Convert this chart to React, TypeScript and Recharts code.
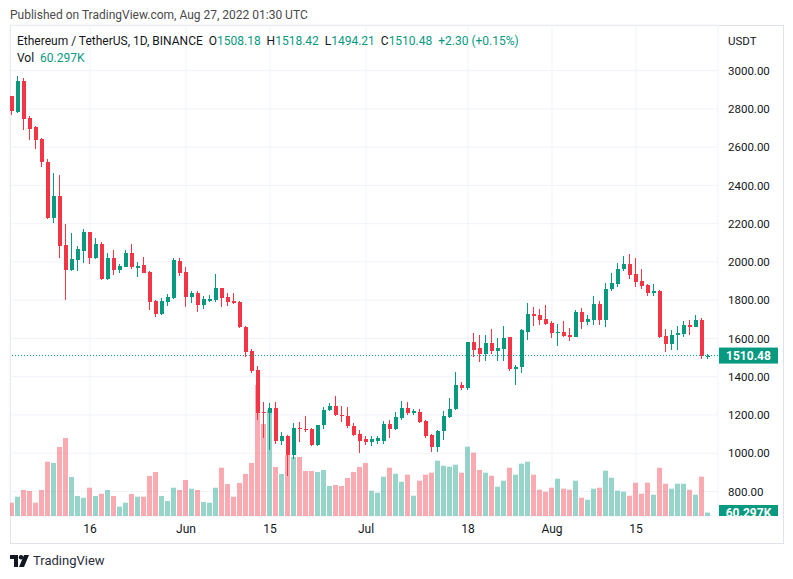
import React from 'react'
import {
  Bar,
  CartesianGrid,
  Cell,
  ComposedChart,
  ReferenceLine,
  XAxis,
  YAxis,
} from 'recharts'

// ETHUSDT daily, 3 May 2022 .. 27 Aug 2022 (index 0 = 3 May)
const opens = [
  2865, 2784, 2947, 2755, 2703, 2645, 2525, 2232, 2345, 2089, 1958, 2011, 2058, 2154, 2023, 2094, 1912, 2023, 1958, 1976,
  2049, 1968, 1984, 1949, 1796, 1727, 1793, 1810, 2005, 1949, 1818, 1840, 1775, 1794, 1802, 1862, 1815, 1797, 1792, 1662,
  1536, 1435, 1214, 1208, 1235, 1065, 1089, 990, 1130, 1127, 1127, 1044, 1148, 1225, 1246, 1200, 1195, 1143, 1101, 1073,
  1057, 1062, 1066, 1153, 1127, 1182, 1235, 1212, 1216, 1170, 1093, 1032, 1116, 1188, 1230, 1356, 1340, 1583, 1548, 1518,
  1578, 1536, 1543, 1606, 1438, 1449, 1635, 1728, 1723, 1702, 1683, 1630, 1636, 1618, 1609, 1740, 1688, 1696, 1780, 1696,
  1857, 1885, 1962, 1990, 1937, 1901, 1880, 1836, 1850, 1613, 1571, 1618, 1623, 1670, 1658, 1697, 1508.18,
]
const highs = [
  2868, 2974, 2961, 2764, 2712, 2649, 2538, 2464, 2454, 2199, 2152, 2081, 2173, 2158, 2124, 2105, 2047, 2063, 1990, 2060,
  2094, 2002, 2025, 1952, 1801, 1810, 1833, 2020, 2020, 1976, 1850, 1850, 1820, 1826, 1935, 1866, 1838, 1838, 1795, 1666,
  1544, 1456, 1270, 1262, 1270, 1113, 1096, 1156, 1165, 1194, 1130, 1150, 1240, 1265, 1300, 1246, 1241, 1156, 1122, 1091,
  1091, 1090, 1166, 1176, 1217, 1274, 1270, 1230, 1230, 1175, 1100, 1120, 1220, 1290, 1425, 1373, 1583, 1630, 1620, 1620,
  1650, 1601, 1665, 1610, 1460, 1650, 1785, 1765, 1755, 1775, 1690, 1673, 1692, 1655, 1750, 1760, 1722, 1820, 1795, 1890,
  1940, 1995, 2030, 2039, 2020, 1965, 1885, 1885, 1855, 1650, 1644, 1665, 1690, 1695, 1722, 1705, 1518.42,
]
const lows = [
  2766, 2778, 2691, 2637, 2591, 2497, 2225, 2206, 2020, 1801, 1953, 1955, 1995, 1990, 2013, 1906, 1906, 1932, 1944, 1972,
  1963, 1920, 1941, 1749, 1711, 1722, 1771, 1805, 1928, 1766, 1787, 1738, 1754, 1790, 1790, 1766, 1771, 1782, 1656, 1501,
  1421, 1173, 1078, 1016, 1049, 1044, 881, 970, 1060, 1110, 1040, 1040, 1126, 1219, 1195, 1163, 1130, 1090, 1001, 1045,
  1040, 1050, 1050, 1077, 1122, 1174, 1200, 1200, 1160, 1080, 1005, 1008, 1070, 1183, 1226, 1333, 1333, 1505, 1478, 1480,
  1520, 1480, 1483, 1430, 1357, 1420, 1590, 1665, 1670, 1670, 1600, 1560, 1607, 1587, 1605, 1650, 1670, 1670, 1670, 1660,
  1850, 1870, 1950, 1911, 1870, 1860, 1820, 1820, 1600, 1530, 1540, 1540, 1610, 1620, 1658, 1490, 1494.21,
]
const closes = [
  2787, 2947, 2749, 2695, 2638, 2520, 2232, 2345, 2085, 1958, 2016, 2068, 2154, 2023, 2094, 1912, 2023, 1958, 1979, 2049,
  1976, 1977, 1944, 1792, 1727, 1796, 1819, 2011, 1941, 1818, 1840, 1775, 1806, 1806, 1862, 1810, 1792, 1787, 1662, 1530,
  1431, 1208, 1211, 1235, 1065, 1089, 990, 1130, 1126, 1123, 1044, 1148, 1225, 1246, 1198, 1195, 1140, 1096, 1063, 1059,
  1074, 1081, 1153, 1127, 1188, 1235, 1208, 1220, 1165, 1088, 1032, 1116, 1194, 1231, 1356, 1340, 1583, 1540, 1518, 1578,
  1536, 1552, 1600, 1438, 1452, 1644, 1728, 1719, 1696, 1675, 1630, 1636, 1615, 1609, 1740, 1688, 1702, 1780, 1696, 1857,
  1889, 1962, 1990, 1932, 1897, 1876, 1836, 1850, 1606, 1571, 1618, 1630, 1670, 1658, 1697, 1508.18, 1510.48,
]
// volume, thousands of ETH
const volumes = [
  233, 338, 455, 438, 233, 455, 950, 928, 1208, 1365, 683, 350, 320, 495, 350, 390, 455, 350, 163, 233,
  385, 338, 338, 700, 770, 350, 263, 495, 455, 630, 478, 455, 245, 233, 495, 845, 560, 338, 578, 735,
  928, 2293, 1610, 1855, 858, 735, 1068, 1033, 1033, 788, 788, 770, 805, 525, 543, 525, 665, 770, 858, 928,
  443, 408, 688, 845, 740, 600, 723, 355, 618, 723, 758, 968, 880, 863, 898, 758, 1213, 1108, 805, 758,
  705, 513, 618, 845, 723, 915, 950, 723, 460, 425, 495, 653, 478, 460, 618, 320, 285, 478, 495, 793,
  670, 443, 425, 355, 583, 390, 583, 373, 845, 565, 478, 565, 565, 460, 373, 688, 60.297,
]

const tickIdx = [13, 29, 43, 59, 76, 90, 104]
const tickText = ['16', 'Jun', '15', 'Jul', '18', 'Aug', '15']
const priceTicks = [800, 1000, 1200, 1400, 1600, 1800, 2000, 2200, 2400, 2600, 2800, 3000]

const UP = '#089981'
const DOWN = '#f23645'
const UP_VOL = 'rgba(8,153,129,0.42)'
const DOWN_VOL = 'rgba(242,54,69,0.42)'
const TEXT = '#131722'

const data = opens.map((open, i) => ({
  i,
  open,
  high: highs[i],
  low: lows[i],
  close: closes[i],
  vol: volumes[i],
  range: [lows[i], highs[i]],
}))

function Candle(props: any) {
  const { x, y, width, height, payload } = props
  if (!payload) return null
  const { open, close, high, low } = payload
  const color = close >= open ? UP : DOWN
  const top = Math.min(y, y + height)
  const h = Math.abs(height)
  const k = high > low ? h / (high - low) : 0
  const bodyTop = top + (high - Math.max(open, close)) * k
  const bodyH = Math.max(1, Math.abs(open - close) * k)
  const cx = x + width / 2
  return (
    <g shapeRendering="crispEdges">
      <rect x={cx - 0.5} y={top} width={1} height={h} fill={color} />
      <rect x={cx - 2} y={bodyTop} width={4} height={bodyH} fill={color} />
    </g>
  )
}

function LastPriceLabel(props: any) {
  const { viewBox } = props
  if (!viewBox) return null
  const bx = viewBox.x + viewBox.width + 1
  return (
    <g>
      <rect x={bx} y={viewBox.y - 8} width={59} height={16} fill={UP} />
      <text x={bx + 29.5} y={viewBox.y + 4} fill="#fff" fontSize={12} fontWeight={700} textAnchor="middle">
        {closes[closes.length - 1].toFixed(2)}
      </text>
    </g>
  )
}

const axisFont = 'Roboto, "Liberation Sans", sans-serif'

export default function App() {
  const last = data[data.length - 1]
  const prev = data[data.length - 2].close
  const chg = last.close - prev
  return (
    <div
      style={{
        position: 'absolute',
        left: 0,
        top: 0,
        width: 793,
        height: 579,
        background: '#fff',
        fontFamily: axisFont,
      }}
    >
      <div
        style={{
          position: 'absolute',
          left: 10,
          top: 7,
          fontSize: 12,
          lineHeight: '16px',
          color: '#4a4a4a',
          whiteSpace: 'nowrap',
        }}
      >
        Published on TradingView.com, Aug 27, 2022 01:30 UTC
      </div>
      <div
        style={{
          position: 'absolute',
          left: 10,
          top: 25,
          width: 772,
          height: 517,
          border: '1px solid #e0e3eb',
        }}
      />
      <ComposedChart
        width={793}
        height={579}
        data={data}
        margin={{ top: 25, right: 0, left: 10, bottom: 36 }}
        style={{ position: 'absolute', left: 0, top: 0 }}
      >
        <CartesianGrid xAxisId="main" yAxisId="price" stroke="#f0f3fa" />
        <XAxis
          xAxisId="main"
          dataKey="i"
          type="number"
          domain={[-1 / 3, 117 + 2 / 3]}
          ticks={tickIdx}
          tickFormatter={(v) => tickText[tickIdx.indexOf(v)] ?? ''}
          interval={0}
          axisLine={false}
          tickLine={false}
          tickSize={0}
          tickMargin={8}
          height={27}
          allowDataOverflow
          tick={{ fontSize: 12, fill: TEXT }}
        />
        <XAxis xAxisId="vol" dataKey="i" type="number" domain={[-1 / 3, 117 + 2 / 3]} hide allowDataOverflow />
        <YAxis
          yAxisId="price"
          orientation="right"
          width={75}
          domain={[671.7, 3238.7]}
          ticks={priceTicks}
          tickFormatter={(v) => Number(v).toFixed(2)}
          interval={0}
          axisLine={false}
          tickLine={false}
          tickSize={0}
          tickMargin={10}
          allowDataOverflow
          tick={{ fontSize: 11.5, fill: TEXT, textAnchor: 'start' }}
        />
        <YAxis yAxisId="vol" domain={[0, 8592]} hide allowDataOverflow />
        <Bar xAxisId="vol" yAxisId="vol" dataKey="vol" barSize={5} isAnimationActive={false}>
          {data.map((d) => (
            <Cell key={d.i} fill={d.close >= d.open ? UP_VOL : DOWN_VOL} />
          ))}
        </Bar>
        <Bar
          xAxisId="main"
          yAxisId="price"
          dataKey="range"
          barSize={5}
          shape={Candle}
          isAnimationActive={false}
        />
        <ReferenceLine
          xAxisId="main"
          yAxisId="price"
          y={last.close}
          stroke={UP}
          strokeDasharray="1 2"
          label={<LastPriceLabel />}
        />
      </ComposedChart>
      <div
        style={{
          position: 'absolute',
          left: 17,
          top: 33,
          fontSize: 12,
          lineHeight: '17px',
          color: TEXT,
          whiteSpace: 'nowrap',
        }}
      >
        Ethereum / TetherUS, 1D, BINANCE&nbsp;&nbsp;O<span style={{ color: UP }}>{last.open.toFixed(2)}</span>
        &nbsp;&nbsp;H<span style={{ color: UP }}>{last.high.toFixed(2)}</span>&nbsp;&nbsp;L
        <span style={{ color: UP }}>{last.low.toFixed(2)}</span>&nbsp;&nbsp;C
        <span style={{ color: UP }}>{last.close.toFixed(2)}</span>&nbsp;&nbsp;
        <span style={{ color: UP }}>
          +{chg.toFixed(2)} (+{((chg / prev) * 100).toFixed(2)}%)
        </span>
        <br />
        Vol&nbsp;&nbsp;<span style={{ color: UP }}>{last.vol.toFixed(3)}K</span>
      </div>
      <div style={{ position: 'absolute', left: 728, top: 33, fontSize: 11.5, lineHeight: '16px', color: TEXT }}>
        USDT
      </div>
      <div
        style={{
          position: 'absolute',
          left: 719,
          top: 505,
          width: 59,
          height: 11,
          overflow: 'hidden',
          background: UP,
          color: '#fff',
          fontSize: 12,
          fontWeight: 700,
          textAlign: 'center',
          lineHeight: '16px',
        }}
      >
        {last.vol.toFixed(3)}K
      </div>
      <div style={{ position: 'absolute', left: 10, top: 553, display: 'flex', alignItems: 'center' }}>
        <svg width={20} height={12} viewBox="0 0 20 12">
          <path d="M0 0h8v12H4V4H0z" fill="#131722" />
          <circle cx={11} cy={2.2} r={2.2} fill="#131722" />
          <path d="M14 0h5l-5 12H9z" fill="#131722" />
        </svg>
        <span style={{ marginLeft: 3, fontSize: 13, color: '#2a2e39', fontFamily: axisFont }}>TradingView</span>
      </div>
    </div>
  )
}
